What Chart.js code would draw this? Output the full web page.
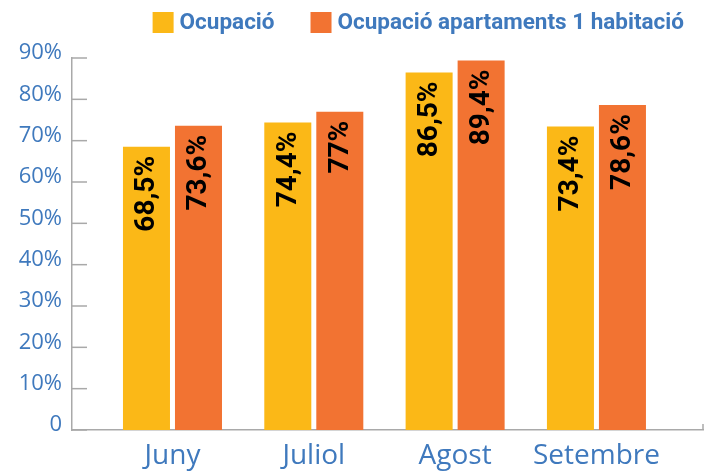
<!DOCTYPE html>
<html>
<head>
<meta charset="utf-8">
<script src="https://cdn.jsdelivr.net/npm/chart.js@4"></script>
<style>
  html, body { margin: 0; padding: 0; background: #fff; }
  #wrap { width: 709px; height: 473px; }
</style>
</head>
<body>
<div id="wrap"><canvas id="chart"></canvas></div>
<script>
// Ocupació per mes
const months = ['Juny', 'Juliol', 'Agost', 'Setembre'];
const ocupacio = [68.5, 74.4, 86.5, 73.4];
const ocupacioApts = [73.6, 77, 89.4, 78.6];
const yTicks = [0, 10, 20, 30, 40, 50, 60, 70, 80, 90];

const BLUE = '#3f79bd';
const AXIS = '#a9a9a9';

function fmt(v) {
    return String(v).replace('.', ',') + '%';
}

// inside tick marks on the y axis + little end tick on x axis
const axisMarks = {
    id: 'axisMarks',
    afterDraw(chart) {
        const ctx = chart.ctx;
        const y = chart.scales.y;
        const area = chart.chartArea;
        ctx.save();
        ctx.strokeStyle = AXIS;
        ctx.lineWidth = 1.5;
        y.ticks.forEach(t => {
            const py = y.getPixelForValue(t.value);
            ctx.beginPath();
            ctx.moveTo(area.left, py);
            ctx.lineTo(area.left + 15, py);
            ctx.stroke();
        });
        ctx.beginPath();
        ctx.moveTo(area.right, area.bottom);
        ctx.lineTo(area.right, area.bottom - 6);
        ctx.stroke();
        ctx.restore();
    }
};

// rotated value labels inside the bars
const barValues = {
    id: 'barValues',
    afterDatasetsDraw(chart) {
        const ctx = chart.ctx;
        ctx.save();
        ctx.fillStyle = '#000';
        ctx.font = 'bold 28px Roboto';
        ctx.textAlign = 'right';
        ctx.textBaseline = 'middle';
        chart.data.datasets.forEach((ds, i) => {
            chart.getDatasetMeta(i).data.forEach((bar, j) => {
                ctx.save();
                ctx.translate(bar.x, bar.y + 9);
                ctx.rotate(-Math.PI / 2);
                ctx.fillText(fmt(ds.data[j].y), 0, 1);
                ctx.restore();
            });
        });
        ctx.restore();
    }
};

// legend drawn top right (square + label per dataset)
const topLegend = {
    id: 'topLegend',
    afterDraw(chart) {
        const ctx = chart.ctx;
        const right = 684, top = 12, box = 21, gap = 6, itemGap = 36;
        ctx.save();
        ctx.font = 'bold 22.5px Roboto';
        ctx.textBaseline = 'middle';
        ctx.textAlign = 'left';
        const items = chart.data.datasets.map(ds => ({
            text: ds.label, color: ds.backgroundColor, w: ctx.measureText(ds.label).width
        }));
        let total = items.reduce((s, it) => s + box + gap + it.w, 0) + itemGap * (items.length - 1);
        let x = right - total;
        items.forEach(it => {
            ctx.fillStyle = it.color;
            ctx.fillRect(x, top, box, box);
            ctx.fillStyle = BLUE;
            ctx.fillText(it.text, x + box + gap, top + box / 2 + 1);
            x += box + gap + it.w + itemGap;
        });
        ctx.restore();
    }
};

new Chart(document.getElementById('chart'), {
    type: 'bar',
    data: {
        datasets: [{
            label: 'Ocupació',
            data: months.map((m, i) => ({ x: i, y: ocupacio[i] })),
            backgroundColor: '#fbb817',
            categoryPercentage: 0.736,
            barPercentage: 0.904
        }, {
            label: 'Ocupació apartaments 1 habitació',
            data: months.map((m, i) => ({ x: i, y: ocupacioApts[i] })),
            backgroundColor: '#f27332',
            categoryPercentage: 0.736,
            barPercentage: 0.904
        }]
    },
    options: {
        responsive: true,
        maintainAspectRatio: false,
        animation: false,
        layout: {
            padding: { top: 58, right: 6, left: 0, bottom: 0 }
        },
        plugins: {
            legend: { display: false },
            tooltip: { enabled: false }
        },
        scales: {
            x: {
                type: 'linear',
                offset: false,
                min: -0.711,
                max: 3.754,
                afterBuildTicks(scale) {
                    scale.ticks = months.map((m, i) => ({ value: i }));
                },
                afterFit(scale) { scale.height = 43; },
                grid: { display: false, drawTicks: false },
                border: { display: true, color: AXIS, width: 1.5 },
                ticks: {
                    padding: 9,
                    color: BLUE,
                    font: { family: 'Open Sans', size: 28 },
                    callback: v => months[v] || ''
                }
            },
            y: {
                min: 0,
                max: 90,
                afterBuildTicks(scale) {
                    scale.ticks = yTicks.map(v => ({ value: v }));
                },
                afterFit(scale) { scale.width = 72; },
                grid: { display: false, drawTicks: false },
                border: { display: true, color: AXIS, width: 1.5 },
                ticks: {
                    padding: 10,
                    labelOffset: -5,
                    color: BLUE,
                    font: { family: 'Open Sans', size: 22 },
                    callback: v => v === 0 ? '0' : v + '%'
                }
            }
        }
    },
    plugins: [axisMarks, barValues, topLegend]
});
</script>
</body>
</html>
